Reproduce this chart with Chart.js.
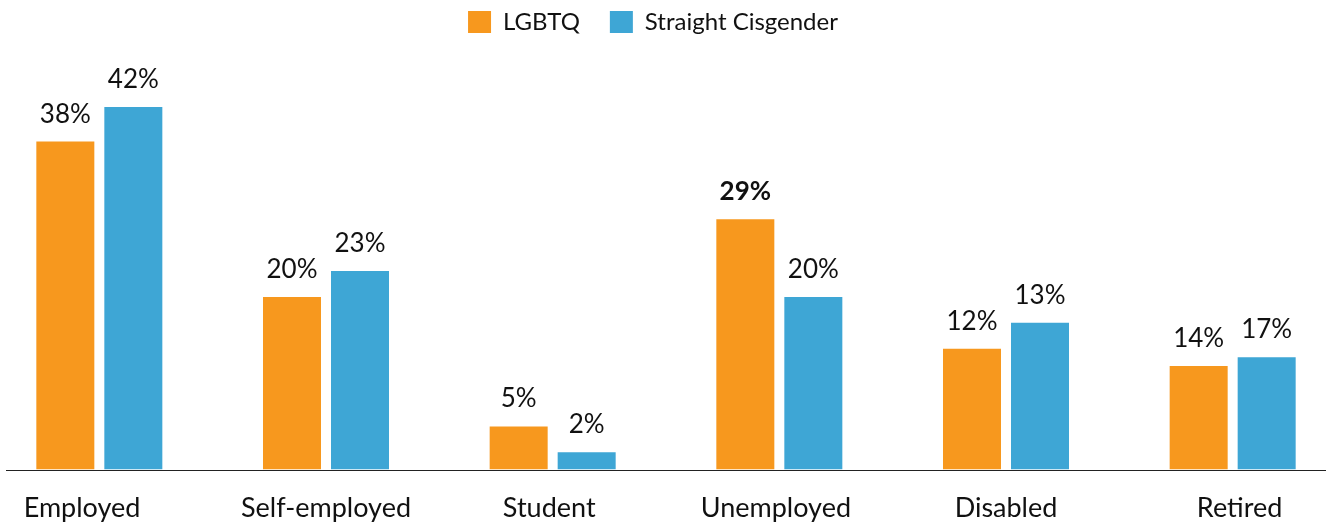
<!DOCTYPE html>
<html>
<head>
<meta charset="utf-8">
<script src="https://cdn.jsdelivr.net/npm/chart.js@4.4.0/dist/chart.umd.min.js"></script>
<style>
	html, body { margin: 0; padding: 0; background: #fff; overflow: hidden; }
	#wrap { position: absolute; left: -14px; top: 0; width: 1360px; height: 546px; }
</style>
</head>
<body>
<div id="wrap"><canvas id="chart1" width="1360" height="546"></canvas></div>
<script>
var categories = ['Employed', 'Self-employed', 'Student', 'Unemployed', 'Disabled', 'Retired'];
// tick text as it sits under the bars (spaces nudge a label off centre like the original)
var tickLabels = ['Employed     ', 'Self-employed', 'Student ', 'Unemployed ', 'Disabled', '  Retired'];
// bar heights as drawn in the picture
var lgbtq = [38, 20, 5, 29, 14, 12];
var straightCis = [42, 23, 2, 20, 17, 13];
// the printed values over the bars
var lgbtqText = ['38%', '20%', '5%', '29%', '12%', '14%'];
var straightCisText = ['42%', '23%', '2%', '20%', '13%', '17%'];
// data labels printed in bold (series index, category index)
var boldLabels = [[0, 3]];

var orange = '#F7981E';
var blue = '#3EA6D5';

function isBold(ds, i) {
	for (var k = 0; k < boldLabels.length; k++) {
		if (boldLabels[k][0] === ds && boldLabels[k][1] === i) return true;
	}
	return false;
}

var valueLabels = {
	id: 'valueLabels',
	afterDatasetsDraw: function(chart) {
		var ctx = chart.ctx;
		var texts = [lgbtqText, straightCisText];
		ctx.save();
		ctx.fillStyle = '#111';
		ctx.textAlign = 'center';
		ctx.textBaseline = 'alphabetic';
		chart.data.datasets.forEach(function(ds, d) {
			chart.getDatasetMeta(d).data.forEach(function(bar, i) {
				ctx.font = (isBold(d, i) ? 'bold ' : '') + '26px Lato';
				ctx.fillText(texts[d][i], bar.x, bar.y - 19);
			});
		});
		ctx.restore();
	}
};

var baseLine = {
	id: 'baseLine',
	afterDatasetsDraw: function(chart) {
		var ctx = chart.ctx;
		var y = Math.round(chart.scales.y.getPixelForValue(0)) + 0.5;
		ctx.save();
		ctx.strokeStyle = '#222';
		ctx.lineWidth = 1;
		ctx.beginPath();
		ctx.moveTo(20, y);
		ctx.lineTo(1340, y);
		ctx.stroke();
		ctx.restore();
	}
};

// legend sits a little left of the centre in the original
var legendShift = {
	id: 'legendShift',
	afterLayout: function(chart) {
		chart.legend.left -= 13;
		chart.legend.right -= 13;
	}
};

var ctx = document.getElementById('chart1').getContext('2d');
new Chart(ctx, {
	type: 'bar',
	data: {
		labels: categories,
		datasets: [{
			label: 'LGBTQ',
			data: lgbtq,
			backgroundColor: orange,
			categoryPercentage: 0.6,
			barPercentage: 0.853
		}, {
			label: 'Straight Cisgender',
			data: straightCis,
			backgroundColor: blue,
			categoryPercentage: 0.6,
			barPercentage: 0.853
		}]
	},
	options: {
		responsive: false,
		animation: false,
		layout: { padding: { left: 0, right: 0, top: -20, bottom: 8 } },
		plugins: {
			tooltip: { enabled: false },
			legend: {
				position: 'top',
				labels: {
					boxWidth: 23,
					boxHeight: 22,
					padding: 30,
					color: '#111',
					font: { family: 'Lato', size: 24 }
				}
			}
		},
		scales: {
			x: {
				grid: { display: false },
				border: { display: false },
				ticks: {
					color: '#111',
					padding: 14,
					font: { family: 'Lato', size: 27 },
					callback: function(value, index) {
						return tickLabels[index];
					}
				}
			},
			y: {
				display: false,
				min: 0,
				max: 49.3
			}
		}
	},
	plugins: [valueLabels, baseLine, legendShift]
});
</script>
</body>
</html>
